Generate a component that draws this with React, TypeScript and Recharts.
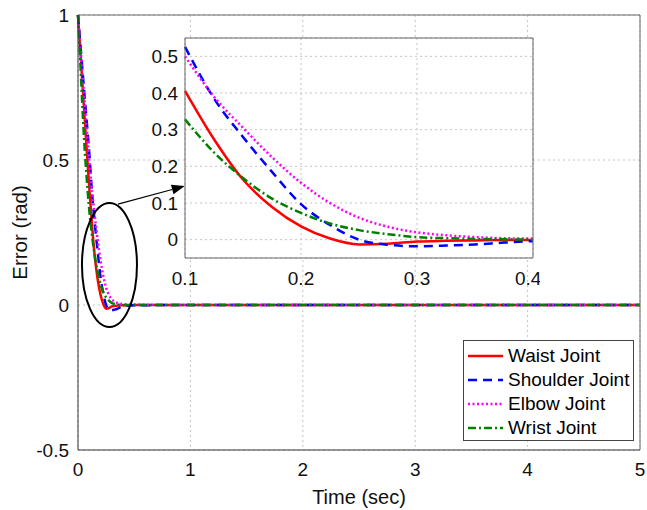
import React from 'react';
import {
  LineChart, Line, XAxis, YAxis, CartesianGrid, Legend, ReferenceDot, ReferenceLine,
} from 'recharts';

// ---------- data ----------
const time = [0, 0.025, 0.05, 0.075, 0.1, 0.125, 0.15, 0.175, 0.2, 0.225, 0.25, 0.275, 0.3, 0.325, 0.35, 0.375, 0.4, 0.5, 1, 2, 3, 4, 5];
const waist =    [1, 0.85, 0.70, 0.55, 0.406, 0.274, 0.164, 0.089, 0.036, 0.003, -0.013, -0.011, -0.005, -0.003, -0.002, -0.001, -0.001, 0, 0, 0, 0, 0, 0];
const shoulder = [1, 0.88, 0.76, 0.645, 0.526, 0.385, 0.28, 0.185, 0.097, 0.04, 0.0, -0.014, -0.018, -0.016, -0.013, -0.008, -0.004, -0.001, 0, 0, 0, 0, 0];
const elbow =    [1, 0.87, 0.745, 0.62, 0.50, 0.39, 0.305, 0.225, 0.155, 0.1, 0.06, 0.035, 0.02, 0.012, 0.007, 0.004, 0.003, 0.001, 0, 0, 0, 0, 0];
const wrist =    [1, 0.80, 0.60, 0.45, 0.328, 0.238, 0.168, 0.112, 0.073, 0.044, 0.026, 0.015, 0.007, 0.004, 0.002, 0.001, 0, 0, 0, 0, 0, 0, 0];

const xTicks = [0, 1, 2, 3, 4, 5];
const yTicks = [-0.5, 0, 0.5, 1];
const insetXTicks = [0.1, 0.2, 0.3, 0.4];
const insetYTicks = [0, 0.1, 0.2, 0.3, 0.4, 0.5];

const seriesNames = ['Waist Joint', 'Shoulder Joint', 'Elbow Joint', 'Wrist Joint'];

const data = time.map((t, i) => ({
  t,
  waist: waist[i],
  shoulder: shoulder[i],
  elbow: elbow[i],
  wrist: wrist[i],
}));
const insetData = data.filter((d) => d.t >= 0.1 && d.t <= 0.4);

// ---------- styles ----------
const FONT = 'Arial, "Liberation Sans", Helvetica, sans-serif';
const AX = '#333';
const GRID = '#c4c4c4';

const series = [
  { key: 'waist', name: seriesNames[0], color: '#ff0000', dash: undefined as string | undefined },
  { key: 'shoulder', name: seriesNames[1], color: '#0000ff', dash: '9 6' },
  { key: 'elbow', name: seriesNames[2], color: '#ff00ff', dash: '2 2.5' },
  { key: 'wrist', name: seriesNames[3], color: '#008000', dash: '8 3 2 3' },
];

const renderLegend = () => (
  <div
    style={{
      border: '1px solid #444',
      background: '#fff',
      width: 171,
      height: 101,
      boxSizing: 'border-box',
      paddingTop: 3,
      fontFamily: FONT,
      fontSize: 19,
      color: '#000',
    }}
  >
    {series.map((s) => (
      <div key={s.key} style={{ display: 'flex', alignItems: 'center', height: 24 }}>
        <svg width={44} height={10} style={{ flex: 'none' }}>
          <line x1={4} y1={5} x2={39} y2={5} stroke={s.color} strokeWidth={2.5} strokeDasharray={s.dash} />
        </svg>
        <span style={{ lineHeight: '24px', whiteSpace: 'nowrap' }}>{s.name}</span>
      </div>
    ))}
  </div>
);

const EllipseShape = (props: any) => (
  <ellipse cx={props.cx} cy={props.cy} rx={27.5} ry={62} fill="none" stroke="#000" strokeWidth={2} />
);

const ArrowShape = (props: any) => {
  const { x1, y1, x2, y2 } = props;
  const ang = Math.atan2(y2 - y1, x2 - x1);
  const L = 13;
  const W = 5;
  const bx = x2 - L * Math.cos(ang);
  const by = y2 - L * Math.sin(ang);
  const px = -Math.sin(ang) * W;
  const py = Math.cos(ang) * W;
  return (
    <g>
      <line x1={x1} y1={y1} x2={bx} y2={by} stroke="#000" strokeWidth={1.2} />
      <polygon points={`${x2},${y2} ${bx + px},${by + py} ${bx - px},${by - py}`} fill="#000" />
    </g>
  );
};

export default function App() {
  return (
    <div style={{ position: 'absolute', left: 0, top: 0, width: 647, height: 510, background: '#fff', fontFamily: FONT }}>
      <div style={{ position: 'absolute', left: 0, top: 0 }}>
        <LineChart width={647} height={510} data={data} margin={{ top: 15, right: 7, bottom: 0, left: 0 }}>
          <CartesianGrid stroke={GRID} strokeDasharray="2 3" />
          <XAxis
            dataKey="t"
            type="number"
            domain={[0, 5]}
            ticks={xTicks}
            tickLine={false}
            tickSize={0}
            tickMargin={13}
            height={60}
            axisLine={{ stroke: AX }}
            tick={{ fontSize: 19, fill: '#111', fontFamily: FONT }}
            label={{ value: 'Time (sec)', position: 'insideBottom', offset: 6, fontSize: 20, fill: '#111', fontFamily: FONT }}
          />
          <XAxis xAxisId="bm" dataKey="t" type="number" domain={[0, 5]} ticks={xTicks} mirror tick={false} axisLine={false} tickLine={{ stroke: AX }} tickSize={6} />
          <XAxis xAxisId="top" orientation="top" dataKey="t" type="number" domain={[0, 5]} ticks={xTicks} mirror tick={false} axisLine={{ stroke: '#666' }} tickLine={{ stroke: '#666' }} tickSize={6} />
          <YAxis
            type="number"
            domain={[-0.5, 1]}
            ticks={yTicks}
            width={78}
            tickLine={false}
            tickSize={0}
            tickMargin={9}
            axisLine={{ stroke: AX }}
            tick={{ fontSize: 19, fill: '#111', fontFamily: FONT }}
            label={{ value: 'Error (rad)', angle: -90, position: 'insideLeft', offset: 20, fontSize: 20.5, fill: '#111', fontFamily: FONT, style: { textAnchor: 'middle' } }}
          />
          <YAxis yAxisId="lm" type="number" domain={[-0.5, 1]} ticks={yTicks} mirror tick={false} axisLine={false} tickLine={{ stroke: AX }} tickSize={6} />
          <YAxis yAxisId="right" orientation="right" type="number" domain={[-0.5, 1]} ticks={yTicks} mirror tick={false} axisLine={{ stroke: '#666' }} tickLine={{ stroke: '#666' }} tickSize={6} />
          {series.map((s) => (
            <Line
              key={s.key}
              type="monotone"
              dataKey={s.key}
              name={s.name}
              stroke={s.color}
              strokeWidth={2.5}
              strokeDasharray={s.dash}
              dot={false}
              activeDot={false}
              isAnimationActive={false}
            />
          ))}
          <ReferenceDot x={0.28} y={0.138} shape={EllipseShape} />
          <ReferenceLine segment={[{ x: 0.356, y: 0.348 }, { x: 0.95, y: 0.41 }]} shape={ArrowShape} />
          <Legend
            layout="vertical"
            align="center"
            verticalAlign="middle"
            content={renderLegend}
            wrapperStyle={{ left: 463, top: 340, width: 171, height: 101 }}
          />
        </LineChart>
      </div>
      <div style={{ position: 'absolute', left: 140, top: 30 }}>
        <LineChart width={400} height={260} data={insetData} margin={{ top: 8, right: 7, bottom: 0, left: 0 }}>
          <CartesianGrid stroke={GRID} strokeDasharray="2 3" fill="#fff" fillOpacity={1} />
          <XAxis
            dataKey="t"
            type="number"
            domain={[0.1, 0.4]}
            ticks={insetXTicks}
            tickLine={false}
            tickSize={0}
            tickMargin={14}
            height={32}
            axisLine={{ stroke: '#666' }}
            tick={{ fontSize: 19, fill: '#111', fontFamily: FONT }}
          />
          <XAxis xAxisId="top" orientation="top" dataKey="t" type="number" domain={[0.1, 0.4]} ticks={insetXTicks} mirror tick={false} tickLine={false} axisLine={{ stroke: '#666' }} />
          <YAxis
            type="number"
            domain={[-0.05, 0.55]}
            ticks={insetYTicks}
            width={45}
            tickLine={false}
            tickSize={0}
            tickMargin={7}
            axisLine={{ stroke: '#666' }}
            tick={{ fontSize: 19, fill: '#111', fontFamily: FONT }}
          />
          <YAxis yAxisId="right" orientation="right" type="number" domain={[-0.05, 0.55]} ticks={insetYTicks} mirror tick={false} tickLine={false} axisLine={{ stroke: '#666' }} />
          {series.map((s) => (
            <Line
              key={s.key}
              type="monotone"
              dataKey={s.key}
              name={s.name}
              stroke={s.color}
              strokeWidth={2.5}
              strokeDasharray={s.dash}
              dot={false}
              activeDot={false}
              isAnimationActive={false}
            />
          ))}
        </LineChart>
      </div>
    </div>
  );
}
